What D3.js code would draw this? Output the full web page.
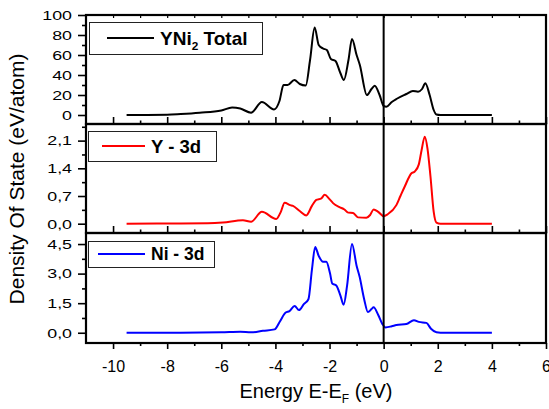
<!DOCTYPE html>
<html>
<head>
<meta charset="utf-8">
<script src="https://cdn.jsdelivr.net/npm/d3@7"></script>
<style>
  body { margin: 0; background: #fff; }
  svg text { font-family: Arial, "Liberation Sans", sans-serif; fill: #000; }
</style>
</head>
<body>
<div id="chart"></div>
<script>
// ---- data ----
const xTicks = [-10, -8, -6, -4, -2, 0, 2, 4, 6];
const xMinor = [-11, -9, -7, -5, -3, -1, 1, 3, 5];

const totalE = [-9.5, -8.0, -7.5, -6.8, -6.0, -5.6, -5.3, -4.9, -4.5, -4.05, -3.85, -3.7, -3.55, -3.3, -3.1, -2.88, -2.72, -2.55, -2.4, -2.24, -2.1, -1.95, -1.78, -1.6, -1.47, -1.3, -1.17, -1.0, -0.88, -0.62, -0.45, -0.33, -0.15, 0.0, 0.1, 0.3, 0.47, 0.84, 1.08, 1.27, 1.42, 1.54, 1.7, 1.85, 1.95, 2.1, 4.0];
const totalV = [0, 0.3, 1, 2.3, 4.5, 7.5, 6.5, 2.3, 13, 5.5, 14, 30, 30, 35, 31, 29.5, 55, 87.5, 70, 66.5, 65, 56, 54, 42, 35, 55, 76, 60, 50, 20, 26, 29.3, 20, 9, 8.3, 13, 16, 21, 24, 23.3, 26, 31.7, 20, 5, 0.5, 0, 0];

const yE = [-9.5, -7.5, -6.5, -5.94, -5.2, -4.9, -4.5, -3.97, -3.8, -3.66, -3.45, -3.35, -3.1, -2.86, -2.65, -2.49, -2.3, -2.18, -2.0, -1.87, -1.63, -1.45, -1.31, -1.13, -0.95, -0.64, -0.5, -0.37, -0.2, 0.0, 0.15, 0.47, 0.62, 0.78, 1.02, 1.15, 1.3, 1.4, 1.52, 1.62, 1.73, 1.85, 1.95, 2.1, 4.0];
const yV = [0, 0.005, 0.01, 0.03, 0.09, 0.05, 0.30, 0.12, 0.3, 0.53, 0.47, 0.45, 0.32, 0.21, 0.45, 0.6, 0.64, 0.73, 0.62, 0.52, 0.42, 0.36, 0.28, 0.27, 0.16, 0.15, 0.22, 0.36, 0.3, 0.19, 0.24, 0.47, 0.7, 0.94, 1.27, 1.32, 1.5, 1.85, 2.2, 1.9, 1.2, 0.3, 0.03, 0, 0];

const niE = [-9.5, -7.5, -6.0, -5.3, -4.9, -4.46, -4.03, -3.84, -3.62, -3.48, -3.29, -3.13, -2.95, -2.78, -2.65, -2.53, -2.4, -2.24, -2.12, -1.98, -1.9, -1.75, -1.6, -1.48, -1.35, -1.17, -1.0, -0.89, -0.72, -0.58, -0.45, -0.37, -0.2, -0.05, 0.07, 0.3, 0.47, 0.84, 1.12, 1.3, 1.58, 1.75, 1.95, 2.1, 4.0];
const niV = [0, 0, 0.02, 0.05, 0.02, 0.1, 0.17, 0.56, 1.03, 1.1, 1.36, 1.15, 1.45, 1.7, 3.2, 4.35, 3.9, 3.6, 3.6, 3.0, 2.5, 2.4, 1.9, 1.42, 2.4, 4.5, 3.4, 2.85, 1.7, 1.05, 1.2, 1.29, 0.9, 0.45, 0.27, 0.33, 0.39, 0.44, 0.64, 0.55, 0.5, 0.2, 0.02, 0, 0];

const totalTicks = [0, 20, 40, 60, 80, 100];
const totalMinor = [10, 30, 50, 70, 90];
const yTicks = [0, 0.7, 1.4, 2.1];
const yMinor = [0.35, 1.05, 1.75, 2.45];
const niTicks = [0, 1.5, 3.0, 4.5];
const niMinor = [0.75, 2.25, 3.75];

// ---- layout ----
const W = 549, H = 409;
const left = 86, right = 546;

const comma = d3.formatLocale({ decimal: ',', thousands: '.', grouping: [3], currency: ['', ''] });

const panels = [
  { top: 15, bottom: 124, domain: [-9, 100], E: totalE, V: totalV, color: '#000',
    ticks: totalTicks, minor: totalMinor, fmt: d3.format('d'),
    legend: { x: 89, y: 22, w: 173, h: 32, line: [107, 154], label: 'YNi', sub: '2', rest: ' Total', size: 19 } },
  { top: 124, bottom: 233, domain: [-0.235, 2.52], E: yE, V: yV, color: '#ff0000',
    ticks: yTicks, minor: yMinor, fmt: comma.format('.1f'),
    legend: { x: 88, y: 131, w: 128, h: 30, line: [102, 145], label: 'Y - 3d', size: 18.5 } },
  { top: 233, bottom: 343, domain: [-0.52, 5.06], E: niE, V: niV, color: '#0000ff',
    ticks: niTicks, minor: niMinor, fmt: comma.format('.1f'),
    legend: { x: 88, y: 241, w: 126, h: 26, line: [98, 145], label: 'Ni - 3d', size: 17.5 } }
];

const x = d3.scaleLinear().domain([-11, 6]).range([left, right]);

const svg = d3.select('#chart').append('svg')
    .attr('width', W)
    .attr('height', H);

panels.forEach((p, i) => {
  const y = d3.scaleLinear().domain(p.domain).range([p.bottom, p.top]);
  const data = p.E.map((e, k) => ({ e, v: p.V[k] }));

  // curve
  svg.append('path')
      .datum(data)
      .attr('fill', 'none')
      .attr('stroke', p.color)
      .attr('stroke-width', 2)
      .attr('stroke-linejoin', 'round')
      .attr('d', d3.line().curve(d3.curveMonotoneX).x(d => x(d.e)).y(d => y(d.v)));

  // left axis, major + minor (outward)
  const yAxis = svg.append('g')
      .attr('transform', `translate(${left},0)`)
      .call(d3.axisLeft(y).tickValues(p.ticks).tickFormat(p.fmt).tickSize(8).tickPadding(6).tickSizeOuter(0));
  yAxis.select('.domain').remove();
  yAxis.selectAll('line').attr('stroke-width', 1.6);
  yAxis.selectAll('text')
      .attr('font-size', 13.5)
      .attr('x', 0)
      .attr('transform', 'translate(-14,0) scale(1.32,1)');

  const yMin = svg.append('g')
      .attr('transform', `translate(${left},0)`)
      .call(d3.axisLeft(y).tickValues(p.minor).tickFormat('').tickSize(4).tickSizeOuter(0));
  yMin.select('.domain').remove();
  yMin.selectAll('line').attr('stroke-width', 1.6);

  if (i < panels.length - 1) {
    // inward ticks on the shared boundary
    const b = svg.append('g')
        .attr('transform', `translate(0,${p.bottom})`)
        .call(d3.axisTop(x).tickValues(xTicks).tickFormat('').tickSize(7).tickSizeOuter(0));
    b.select('.domain').remove();
    b.selectAll('line').attr('stroke-width', 1.6);
    const bm = svg.append('g')
        .attr('transform', `translate(0,${p.bottom})`)
        .call(d3.axisTop(x).tickValues(xMinor.slice(1)).tickFormat('').tickSize(3.5).tickSizeOuter(0));
    bm.select('.domain').remove();
    bm.selectAll('line').attr('stroke-width', 1.6);
  }

  if (i === 0) {
    // short ticks along the top edge
    const t = svg.append('g')
        .attr('transform', `translate(0,${p.top})`)
        .call(d3.axisBottom(x).tickValues(d3.range(-10, 6)).tickFormat('').tickSize(3).tickSizeOuter(0));
    t.select('.domain').remove();
    t.selectAll('line').attr('stroke-width', 1.2);
  }

  // frame
  svg.append('rect')
      .attr('x', left)
      .attr('y', p.top)
      .attr('width', right - left)
      .attr('height', p.bottom - p.top)
      .attr('fill', 'none')
      .attr('stroke', '#000')
      .attr('stroke-width', 2.2);

  // legend
  const L = p.legend;
  svg.append('rect')
      .attr('x', L.x + 0.5)
      .attr('y', L.y + 0.5)
      .attr('width', L.w)
      .attr('height', L.h)
      .attr('fill', '#fff')
      .attr('stroke', '#222')
      .attr('stroke-width', 1);
  svg.append('line')
      .attr('x1', L.line[0]).attr('x2', L.line[1])
      .attr('y1', L.y + L.h / 2).attr('y2', L.y + L.h / 2)
      .attr('stroke', p.color)
      .attr('stroke-width', 2);
  const lt = svg.append('text')
      .attr('x', L.line[1] + 6)
      .attr('y', L.y + L.h / 2 + L.size * 0.36)
      .attr('font-size', L.size)
      .attr('font-weight', 'bold')
      .text(L.label);
  if (L.sub) {
    lt.append('tspan').attr('font-size', L.size * 0.62).attr('dy', 5).text(L.sub);
    lt.append('tspan').attr('dy', -5).text(L.rest);
  }
});

// bottom x axis (outward), plain hyphen minus as in the original
const xAxis = svg.append('g')
    .attr('transform', `translate(0,${panels[2].bottom})`)
    .call(d3.axisBottom(x).tickValues(xTicks).tickFormat(d => String(d)).tickSize(6).tickSizeOuter(0));
xAxis.select('.domain').remove();
xAxis.selectAll('line').attr('stroke-width', 1.6);
xAxis.selectAll('text')
    .attr('font-size', 16)
    .attr('dy', 0)
    .attr('y', 28.5);

const xMin = svg.append('g')
    .attr('transform', `translate(0,${panels[2].bottom})`)
    .call(d3.axisBottom(x).tickValues(xMinor.slice(1)).tickFormat('').tickSize(3).tickSizeOuter(0));
xMin.select('.domain').remove();
xMin.selectAll('line').attr('stroke-width', 1.6);

// Fermi level
svg.append('line')
    .attr('x1', x(0)).attr('x2', x(0))
    .attr('y1', panels[0].top).attr('y2', panels[2].bottom)
    .attr('stroke', '#000')
    .attr('stroke-width', 2);

// axis titles
const xt = svg.append('text')
    .attr('x', (left + right) / 2)
    .attr('y', 398)
    .attr('text-anchor', 'middle')
    .attr('font-size', 20)
    .text('Energy E-E');
xt.append('tspan').attr('font-size', 12).attr('dy', 5).text('F');
xt.append('tspan').attr('dy', -5).text(' (eV)');

svg.append('text')
    .attr('transform', 'translate(24,179) rotate(-90)')
    .attr('text-anchor', 'middle')
    .attr('font-size', 21)
    .text('Density Of State (eV/atom)');
</script>
</body>
</html>
